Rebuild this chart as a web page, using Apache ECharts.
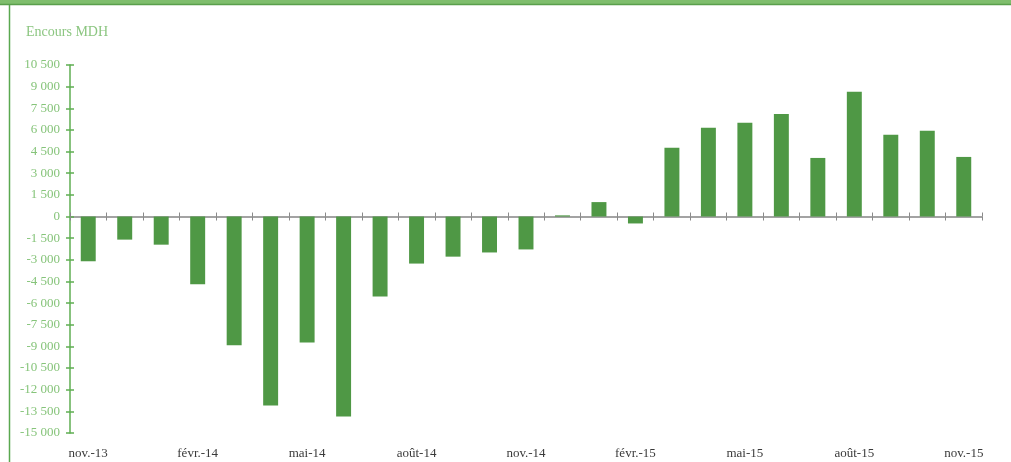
<!DOCTYPE html>
<html>
<head>
<meta charset="utf-8">
<script src="https://cdn.jsdelivr.net/npm/echarts@6/dist/echarts.min.js"></script>
<style>
html,body{margin:0;padding:0;background:#fff;}
#chart{width:1011px;height:462px;}
</style>
</head>
<body>
<div id="chart"></div>
<script>
var categories = ["nov.-13","déc.-13","janv.-14","févr.-14","mars-14","avr.-14","mai-14","juin-14","juil.-14","août-14","sept.-14","oct.-14","nov.-14","déc.-14","janv.-15","févr.-15","mars-15","avr.-15","mai-15","juin-15","juil.-15","août-15","sept.-15","oct.-15","nov.-15"];
var encours = [-3100,-1600,-1950,-4700,-8920,-13100,-8730,-13850,-5550,-3260,-2780,-2490,-2280,80,1000,-480,4760,6150,6490,7110,4060,8640,5670,5940,4130];
var yMin = -15000, yMax = 10500, yStep = 1500;
var unitTitle = "Encours MDH";

var serif = '"Liberation Serif","DejaVu Serif",serif';
var labelGreen = '#86c47a';
function fmt(v){
  var s = Math.abs(v).toString().replace(/\B(?=(\d{3})+(?!\d))/g, ' ');
  return (v < 0 ? '-' : '') + s;
}
var chart = echarts.init(document.getElementById('chart'));
var yBase = {type:'value', min:yMin, max:yMax, interval:yStep, splitLine:{show:false}};
chart.setOption({
  animation:false,
  backgroundColor:'#fff',
  title:{text:unitTitle, left:26, top:25, padding:0, textStyle:{fontFamily:serif, fontSize:14, fontWeight:'normal', color:'#8cc681'}},
  graphic:[
    {type:'rect', shape:{x:0,y:0,width:1011,height:4}, style:{fill:'#7fbe6d'}},
    {type:'line', shape:{x1:0,y1:4.5,x2:1011,y2:4.5}, style:{stroke:'#5a9f4c', lineWidth:1.5}},
    {type:'line', shape:{x1:9.5,y1:5,x2:9.5,y2:462}, style:{stroke:'#5aa84f', lineWidth:1.5}}
  ],
  grid:{left:70, right:29, top:65, bottom:29, containLabel:false},
  xAxis:[
    {type:'category', data:categories, position:'bottom', axisLine:{onZero:true, lineStyle:{color:'#858585', width:1.5}},
     axisTick:{show:true, interval:0, length:4, lineStyle:{color:'#8a8a8a', width:1}}, axisLabel:{show:false}},
    {type:'category', data:categories, position:'top', axisLine:{show:false, onZero:true},
     axisTick:{show:true, interval:0, length:4, lineStyle:{color:'#8a8a8a', width:1}}, axisLabel:{show:false}},
    {type:'category', data:categories, position:'bottom', axisLine:{show:false, onZero:false}, axisTick:{show:false},
     axisLabel:{show:true, interval:2, margin:14, fontFamily:serif, fontSize:13, color:'#3a3a3a'}}
  ],
  yAxis:[
    Object.assign({}, yBase, {position:'left', axisLine:{show:true, lineStyle:{color:'#5fae52', width:1.5}},
      axisTick:{show:true, length:4, lineStyle:{color:'#5fae52', width:1.5}},
      axisLabel:{margin:10, fontFamily:serif, fontSize:13, color:labelGreen, formatter:fmt}}),
    Object.assign({}, yBase, {position:'left', axisLine:{show:false},
      axisTick:{show:true, inside:true, length:4, lineStyle:{color:'#5fae52', width:1.5}},
      axisLabel:{show:false}})
  ],
  series:[{
    type:'bar', data:encours, xAxisIndex:0, yAxisIndex:0, barWidth:'41%',
    itemStyle:{color:'#4f9845'}
  }]
});
</script>
</body>
</html>
